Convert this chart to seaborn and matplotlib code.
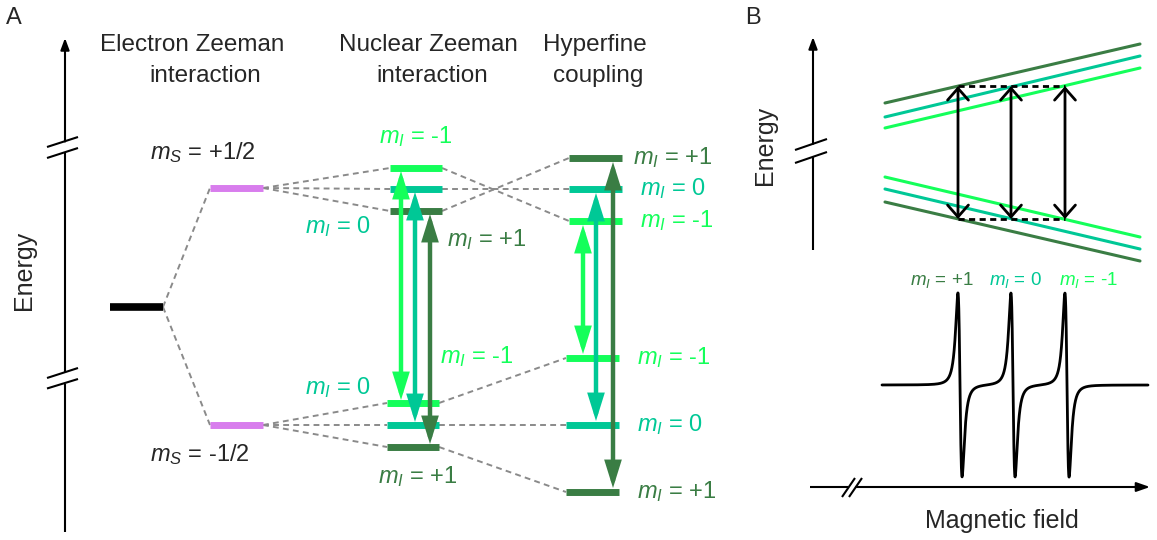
import numpy as np
import pandas as pd
import matplotlib
matplotlib.use("Agg")
import matplotlib.pyplot as plt
from matplotlib.patches import FancyArrowPatch, ArrowStyle
import seaborn as sns

sns.set_theme(style="white")
plt.rcParams["font.family"] = ["Liberation Sans", "DejaVu Sans"]
plt.rcParams["mathtext.fontset"] = "custom"
plt.rcParams["mathtext.rm"] = "Liberation Sans"
plt.rcParams["mathtext.it"] = "Liberation Sans:italic"

# ---- nuclear spin states and their colours ----
m_I_states = ["+1", "0", "-1"]
state_colors = {"+1": "#3a7d44", "0": "#00c896", "-1": "#14ff5a"}
electron_color = "#d87ded"

# ---- panel A: level energies (diagram units, larger = lower) ----
free_level = 307
electron_levels = {"+1/2": 188, "-1/2": 425}
nuclear_upper = {"-1": 168, "0": 189, "+1": 211}
nuclear_lower = {"-1": 403, "0": 425, "+1": 447}
hyperfine_upper = {"+1": 158, "0": 189, "-1": 221}
hyperfine_lower = {"-1": 358, "0": 425, "+1": 492}

# ---- panel B: Zeeman lines vs field (start / end energies) ----
field_range = [885, 1140]
upper_start = {"+1": 103, "0": 117, "-1": 128}
upper_end = {"+1": 44, "0": 56, "-1": 68}
lower_start = {"-1": 177, "0": 189, "+1": 202}
lower_end = {"-1": 237, "0": 249, "+1": 261}
resonance_field = {"+1": 958, "0": 1011, "-1": 1065}

# ---- panel B: derivative spectrum ----
spectrum_range = [882, 1148]
spectrum_baseline = 385
spectrum_amplitude = 92
line_width = 3.6

fig = plt.figure(figsize=(11.57, 5.40), dpi=100)
ax = fig.add_axes([0, 0, 1, 1])
ax.set_xlim(0, 1157)
ax.set_ylim(540, 0)
ax.axis("off")

DASH_GREY = "#8a8a8a"
FS_HEAD = 17.5
FS_LAB = 17
FS_AX = 18


def level(x0, x1, y, color, lw=5.0):
    ax.hlines(y, x0, x1, colors=color, lw=lw, capstyle="butt", zorder=3)


def connector(p, q):
    ax.plot([p[0], q[0]], [p[1], q[1]], color=DASH_GREY, lw=1.4,
            dashes=(3.0, 2.2), zorder=1)


def double_arrow(x, y0, y1, color, lw, hl, hw, filled=True, z=4):
    style = ArrowStyle("<|-|>" if filled else "<->",
                       head_length=hl, head_width=hw)
    ax.add_patch(FancyArrowPatch((x, y0), (x, y1), arrowstyle=style,
                                 color=color, lw=lw, shrinkA=0, shrinkB=0,
                                 joinstyle="miter", zorder=z))


def axis_arrow(p, q, hl=7, hw=2.6):
    ax.add_patch(FancyArrowPatch(p, q, arrowstyle=ArrowStyle(
        "-|>", head_length=hl, head_width=hw), color="black", lw=1.5,
        shrinkA=0, shrinkB=0, zorder=2))


def seg(p, q, lw=1.5):
    ax.plot([p[0], q[0]], [p[1], q[1]], color="black", lw=lw,
            solid_capstyle="butt", zorder=2)


def mI(s):
    return r"$m_I$ = " + s


# =================== Panel A ===================
ax.text(6, 18, "A", fontsize=FS_LAB, va="center", ha="left")

# energy axis with two breaks
seg((65, 532), (65, 383.5))
seg((65, 372.5), (65, 152.5))
axis_arrow((65, 141.5), (65, 38))
for (a, b) in [((47, 147), (78, 137)), ((47, 158), (78, 148)),
               ((47, 378), (78, 368)), ((47, 388.5), (78, 379))]:
    seg(a, b)
ax.text(24, 270, "Energy", rotation=90, fontsize=FS_AX, ha="center",
        va="center")

# column headings
ax.text(192, 45, "Electron Zeeman", fontsize=FS_HEAD, ha="center",
        va="center")
ax.text(205, 76, "interaction", fontsize=FS_HEAD, ha="center", va="center")
ax.text(428, 45, "Nuclear Zeeman", fontsize=FS_HEAD, ha="center",
        va="center")
ax.text(432, 76, "interaction", fontsize=FS_HEAD, ha="center", va="center")
ax.text(595, 45, "Hyperfine", fontsize=FS_HEAD, ha="center", va="center")
ax.text(598, 76, "coupling", fontsize=FS_HEAD, ha="center", va="center")

# free electron and electron Zeeman levels
fx0, fx1 = 110, 163
ex0, ex1 = 210, 263
nx0, nx1 = 390, 442
hx0, hx1 = 569, 622
level(fx0, fx1, free_level, "black", lw=5.5)
for ms, y in electron_levels.items():
    level(ex0, ex1, y, electron_color)
    connector((fx1, free_level), (ex0, y))
ax.text(150, 153, r"$m_S$ = +1/2", fontsize=FS_LAB, ha="left", va="center")
ax.text(150, 455, r"$m_S$ = -1/2", fontsize=FS_LAB, ha="left", va="center")

# nuclear Zeeman and hyperfine levels
for s in m_I_states:
    c = state_colors[s]
    level(nx0, nx1, nuclear_upper[s], c)
    level(nx0 - 3, nx1 - 3, nuclear_lower[s], c)
    level(hx0, hx1, hyperfine_upper[s], c)
    level(hx0 - 3, hx1 - 3, hyperfine_lower[s], c)
    connector((ex1, electron_levels["+1/2"]), (nx0, nuclear_upper[s]))
    connector((ex1, electron_levels["-1/2"]), (nx0 - 3, nuclear_lower[s]))
    connector((nx1, nuclear_upper[s]), (hx0, hyperfine_upper[s]))
    connector((nx1 - 3, nuclear_lower[s]), (hx0 - 3, hyperfine_lower[s]))

# allowed transitions
nuc_arrow_x = {"-1": 401, "0": 415, "+1": 430}
hf_arrow_x = {"-1": 583, "0": 596, "+1": 613}
for s in m_I_states:
    c = state_colors[s]
    double_arrow(nuc_arrow_x[s], nuclear_upper[s] + 3, nuclear_lower[s] - 3,
                 c, 3.2, 13.5, 4.2)
    double_arrow(hf_arrow_x[s], hyperfine_upper[s] + 4,
                 hyperfine_lower[s] - 4, c, 3.2, 13.5, 4.2,
                 z=5 if s == "+1" else 4)

# nuclear Zeeman labels
ax.text(416, 137, mI("-1"), color=state_colors["-1"], fontsize=FS_LAB,
        ha="center", va="center")
ax.text(338, 227, mI("0"), color=state_colors["0"], fontsize=FS_LAB,
        ha="center", va="center")
ax.text(487, 240, mI("+1"), color=state_colors["+1"], fontsize=FS_LAB,
        ha="center", va="center")
ax.text(477, 357, mI("-1"), color=state_colors["-1"], fontsize=FS_LAB,
        ha="center", va="center")
ax.text(338, 388, mI("0"), color=state_colors["0"], fontsize=FS_LAB,
        ha="center", va="center")
ax.text(418, 477, mI("+1"), color=state_colors["+1"], fontsize=FS_LAB,
        ha="center", va="center")

# hyperfine labels
for s, y in hyperfine_upper.items():
    ax.text(633 if s == "+1" else 640, y, mI(s), color=state_colors[s],
            fontsize=FS_LAB, ha="left", va="center")
for s, y in hyperfine_lower.items():
    ax.text(637, y, mI(s), color=state_colors[s], fontsize=FS_LAB,
            ha="left", va="center")

# =================== Panel B ===================
ax.text(745, 18, "B", fontsize=FS_LAB, va="center", ha="left")
seg((813, 250), (813, 156.7))
axis_arrow((813, 143.8), (813, 37))
seg((795, 150), (827, 139))
seg((795, 163), (827, 152))
ax.text(765, 145, "Energy", rotation=90, fontsize=FS_AX, ha="center",
        va="center")

# Zeeman lines of both electron spin manifolds
rows = []
for s in m_I_states:
    rows.append(dict(state=s, manifold="up", field=field_range[0],
                     energy=upper_start[s]))
    rows.append(dict(state=s, manifold="up", field=field_range[1],
                     energy=upper_end[s]))
    rows.append(dict(state=s, manifold="down", field=field_range[0],
                     energy=lower_start[s]))
    rows.append(dict(state=s, manifold="down", field=field_range[1],
                     energy=lower_end[s]))
zeeman = pd.DataFrame(rows)
zeeman["group"] = zeeman["state"] + zeeman["manifold"]
sns.lineplot(data=zeeman, x="field", y="energy", hue="state",
             units="group", estimator=None, palette=state_colors,
             lw=2.2, legend=False, ax=ax, zorder=2)


def interp(d0, d1, s, x):
    t = (x - field_range[0]) / (field_range[1] - field_range[0])
    return d0[s] + (d1[s] - d0[s]) * t


top_y = []
bot_y = []
for s in m_I_states:
    x = resonance_field[s]
    top_y.append(interp(upper_start, upper_end, s, x))
    bot_y.append(interp(lower_start, lower_end, s, x))
ty = float(np.mean(top_y))
by = float(np.mean(bot_y))
fx = [resonance_field[s] for s in m_I_states]
ax.plot([min(fx), max(fx)], [ty, ty], color="black", lw=2, dashes=(2.2, 1.6),
        zorder=3)
ax.plot([min(fx), max(fx)], [by, by], color="black", lw=2, dashes=(2.2, 1.6),
        zorder=3)
for s in m_I_states:
    double_arrow(resonance_field[s], ty, by, "black", 2.0, 8.5, 7.5,
                 filled=False)

# derivative absorption spectrum
xs = np.linspace(spectrum_range[0], spectrum_range[1], 3000)
sig = np.zeros_like(xs)
for s in m_I_states:
    u = (xs - resonance_field[s] - 2) / line_width
    sig += -u / (1 + u ** 2) ** 2
sig = sig / (1 / np.sqrt(3) / (4 / 3) ** 2)
spec = pd.DataFrame({"field": xs,
                     "signal": spectrum_baseline - spectrum_amplitude * sig})
sns.lineplot(data=spec, x="field", y="signal", color="black", lw=2.0,
             estimator=None, sort=False, ax=ax, zorder=2)

for s, cx in zip(m_I_states, [942, 1015, 1088]):
    ax.text(cx, 280, mI(s), color=state_colors[s], fontsize=13.5,
            ha="center", va="center")

# magnetic field axis
seg((810, 487), (848, 487))
axis_arrow((856, 487), (1150, 487), hl=8, hw=2.8)
seg((842, 497), (855, 478))
seg((849, 497), (862, 478))
ax.text(1002, 521, "Magnetic field", fontsize=FS_AX, ha="center",
        va="center")

fig.savefig("out.png", dpi=100)
